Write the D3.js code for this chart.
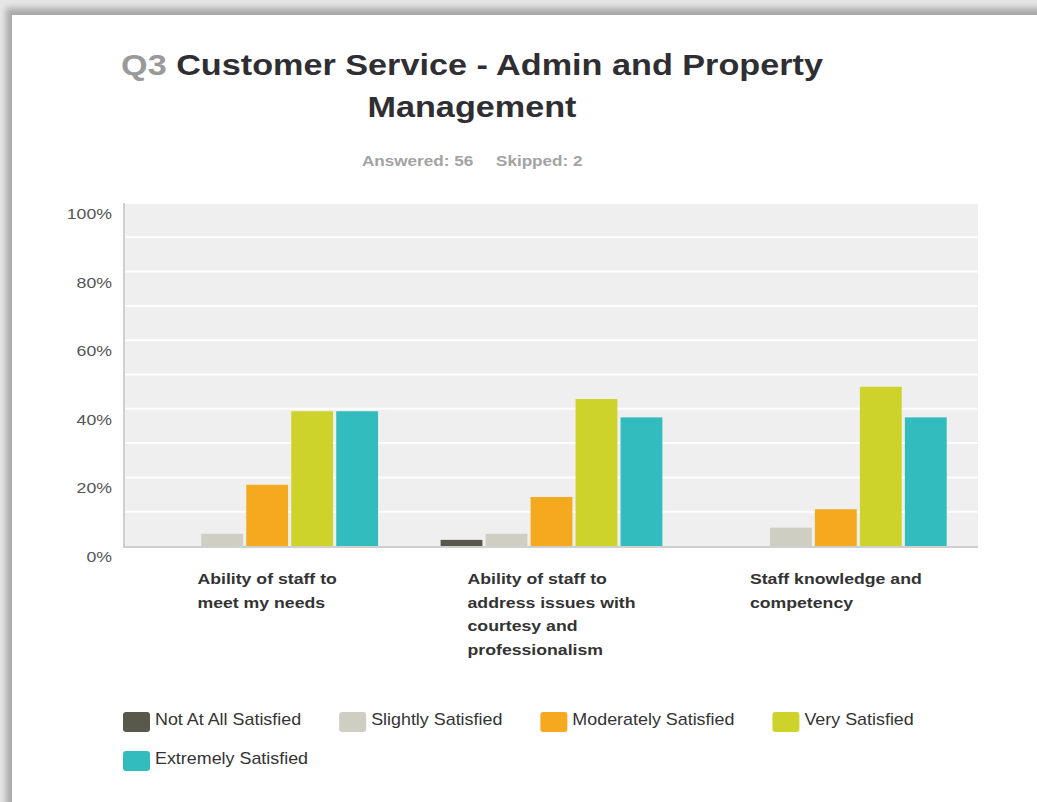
<!DOCTYPE html>
<html>
<head>
<meta charset="utf-8">
<style>
  body { margin: 0; background: #fff; }
  svg { display: block; font-family: "Liberation Sans", Arial, sans-serif; }
</style>
</head>
<body>
<svg width="1037" height="802"></svg>
<script src="https://d3js.org/d3.v7.min.js"></script>
<script>

// survey answers, share of respondents per row (56 answered)
var questions = [
  "Ability of staff to meet my needs",
  "Ability of staff to address issues with courtesy and professionalism",
  "Staff knowledge and competency"
];
var levels = ["Not At All Satisfied", "Slightly Satisfied", "Moderately Satisfied", "Very Satisfied", "Extremely Satisfied"];
var notAtAll   = [0, 1.79, 0];
var slightly   = [3.57, 3.57, 5.36];
var moderately = [17.86, 14.29, 10.71];
var very       = [39.29, 42.86, 46.43];
var extremely  = [39.29, 37.50, 37.50];
var yTicks = [0, 20, 40, 60, 80, 100];
var colors = ["#59594b", "#cfcec3", "#f5a91e", "#cdd32b", "#33bcbe"];

var series = [notAtAll, slightly, moderately, very, extremely];

// the source text is a bit wider than Arial, so stretch glyphs sideways
var K = 1.14;
function stretch(sel) {
  sel.each(function() {
    var w = this.getComputedTextLength();
    d3.select(this).attr("textLength", w * K).attr("lengthAdjust", "spacingAndGlyphs");
  });
}

var svg = d3.select("svg"),
    width = +svg.attr("width"),
    height = +svg.attr("height");

// page shadow frame
var defs = svg.append("defs");
defs.append("filter").attr("id", "blur")
    .attr("x", "-10%").attr("y", "-10%").attr("width", "120%").attr("height", "120%")
  .append("feGaussianBlur").attr("stdDeviation", 3);

svg.append("rect").attr("width", width).attr("height", height).attr("fill", "#e6e6e6");
svg.append("rect").attr("x", 6).attr("y", 8).attr("width", width + 40).attr("height", height + 40)
    .attr("fill", "#a9a9a9").attr("filter", "url(#blur)");
svg.append("rect").attr("x", 12).attr("y", 15).attr("width", width).attr("height", height)
    .attr("fill", "#fff");

var margin = {left: 125, right: 978, top: 203, bottom: 546};

var x0 = d3.scaleBand()
    .domain(questions)
    .range([margin.left, margin.right])
    .paddingInner(0.22)
    .paddingOuter(0.11);

var x1 = d3.scaleBand()
    .domain(levels)
    .range([0, x0.bandwidth()])
    .paddingInner(0.07);

var y = d3.scaleLinear()
    .domain([0, 100])
    .range([margin.bottom, margin.top]);

// plot background + gridlines
svg.append("rect")
    .attr("x", margin.left).attr("y", margin.top)
    .attr("width", margin.right - margin.left).attr("height", margin.bottom - margin.top)
    .attr("fill", "#efefef");

svg.append("g").selectAll("line")
  .data(d3.range(10, 101, 10))
  .enter().append("line")
    .attr("x1", margin.left).attr("x2", margin.right)
    .attr("y1", function(d) { return y(d); })
    .attr("y2", function(d) { return y(d); })
    .attr("stroke", "#fff")
    .attr("stroke-width", 2);

// y labels sit just under their gridline
svg.append("g").selectAll("text")
  .data(yTicks)
  .enter().append("text")
    .attr("x", 112)
    .attr("y", function(d) { return y(d) + 16; })
    .attr("text-anchor", "end")
    .attr("font-size", 15.5)
    .attr("fill", "#555")
    .text(function(d) { return d + "%"; })
    .call(stretch);

// bars
var group = svg.append("g").selectAll("g")
  .data(questions)
  .enter().append("g")
    .attr("transform", function(d) { return "translate(" + x0(d) + ",0)"; });

group.selectAll("rect")
  .data(function(q, qi) {
    return levels.map(function(l, li) { return {level: l, value: series[li][qi], color: colors[li]}; });
  })
  .enter().append("rect")
    .attr("x", function(d) { return x1(d.level); })
    .attr("width", x1.bandwidth())
    .attr("y", function(d) { return y(d.value); })
    .attr("height", function(d) { return y(0) - y(d.value); })
    .attr("fill", function(d) { return d.color; });

// axis lines
svg.append("line")
    .attr("x1", margin.left - 1).attr("x2", margin.left - 1)
    .attr("y1", margin.top).attr("y2", margin.bottom + 1)
    .attr("stroke", "#cfcfcf").attr("stroke-width", 2);
svg.append("line")
    .attr("x1", margin.left - 2).attr("x2", margin.right)
    .attr("y1", margin.bottom + 1).attr("y2", margin.bottom + 1)
    .attr("stroke", "#cfcfcf").attr("stroke-width", 2);

// category labels, wrapped, block centred under the group, lines left aligned
var labelG = svg.append("g")
    .attr("font-size", 15.5)
    .attr("font-weight", "bold")
    .attr("fill", "#333");

function splitLines(str, maxW) {
  var probe = labelG.append("text");
  var words = str.split(" "), lines = [], line = [];
  words.forEach(function(w) {
    line.push(w);
    probe.text(line.join(" "));
    if (probe.node().getComputedTextLength() > maxW && line.length > 1) {
      line.pop();
      lines.push(line.join(" "));
      line = [w];
    }
  });
  lines.push(line.join(" "));
  probe.remove();
  return lines;
}

questions.forEach(function(q) {
  var lines = splitLines(q, 157);
  var cx = x0(q) + x0.bandwidth() / 2;
  var texts = labelG.selectAll(null)
    .data(lines)
    .enter().append("text")
      .attr("y", function(l, i) { return 584 + i * 23.5; })
      .text(function(l) { return l; });
  var maxW = d3.max(texts.nodes(), function(n) { return n.getComputedTextLength(); }) * K;
  texts.attr("x", cx - maxW / 2).call(stretch);
});

// title
var title = svg.append("text")
    .attr("x", 472).attr("y", 75)
    .attr("text-anchor", "middle")
    .attr("font-size", 30)
    .attr("font-weight", "bold")
    .attr("fill", "#2f2f33");
title.append("tspan").attr("fill", "#9a9a9a").text("Q3 ");
title.append("tspan").text("Customer Service - Admin and Property");
title.call(stretch);

svg.append("text")
    .attr("x", 472).attr("y", 117)
    .attr("text-anchor", "middle")
    .attr("font-size", 30)
    .attr("font-weight", "bold")
    .attr("fill", "#2f2f33")
    .text("Management")
    .call(stretch);

svg.append("text")
    .attr("x", 362).attr("y", 166)
    .attr("font-size", 15)
    .attr("font-weight", "bold")
    .attr("fill", "#a3a3a3")
    .text("Answered: 56")
    .call(stretch);
svg.append("text")
    .attr("x", 496).attr("y", 166)
    .attr("font-size", 15)
    .attr("font-weight", "bold")
    .attr("fill", "#a3a3a3")
    .text("Skipped: 2")
    .call(stretch);

// legend, flowing left to right
var legend = svg.append("g");
var lx = 123, ly = 712, rowH = 39, legendRight = 960;
levels.forEach(function(l, i) {
  var item = legend.append("g");
  item.append("rect")
      .attr("width", 27).attr("height", 20).attr("rx", 3)
      .attr("fill", colors[i]);
  var t = item.append("text")
      .attr("x", 32).attr("y", 13)
      .attr("font-size", 15.7)
      .attr("fill", "#333")
      .text(l);
  var w = 32 + t.node().getComputedTextLength() * K;
  t.call(stretch);
  if (lx + w > legendRight) { lx = 123; ly += rowH; }
  item.attr("transform", "translate(" + lx + "," + ly + ")");
  lx += w + 38;
});

</script>
</body>
</html>
